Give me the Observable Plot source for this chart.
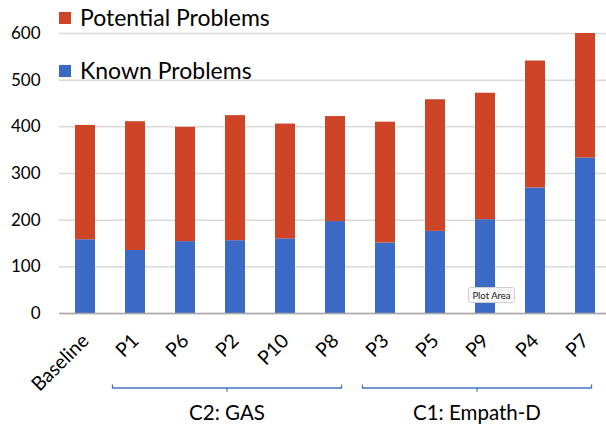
<!DOCTYPE html>
<html>
<head>
<meta charset="utf-8">
<script src="https://cdn.jsdelivr.net/npm/d3@7"></script>
<script src="https://cdn.jsdelivr.net/npm/@observablehq/plot@0.6"></script>
<style>
  html, body { margin: 0; padding: 0; background: #fff; }
  #chart svg { display: block; }
</style>
</head>
<body>
<div id="chart"></div>
<script>
const participants = ["Baseline", "P1", "P6", "P2", "P10", "P8", "P3", "P5", "P9", "P4", "P7"];
const knownProblems = [158, 135, 154, 156, 160, 197, 151, 176, 201, 269, 333];
const totalProblems = [403, 411, 399, 424, 406, 422, 410, 458, 472, 541, 600];
const potentialProblems = totalProblems.map((t, i) => t - knownProblems[i]);
const seriesNames = ["Known Problems", "Potential Problems"];
const seriesColors = ["#3A69C6", "#CD4526"];
const yTicks = [0, 100, 200, 300, 400, 500, 600];
const groups = [
  { label: "C2: GAS", first: "P1", last: "P8" },
  { label: "C1: Empath-D", first: "P3", last: "P7" }
];

const rows = [];
participants.forEach((p, i) => {
  rows.push({ participant: p, type: seriesNames[0], value: knownProblems[i] });
  rows.push({ participant: p, type: seriesNames[1], value: potentialProblems[i] });
});

const FONT = "Lato, 'Open Sans', sans-serif";
const W = 606, H = 427;

const plot = Plot.plot({
  width: W,
  height: H,
  marginTop: 33,
  marginBottom: 114,
  marginLeft: 59,
  marginRight: 0,
  style: { fontFamily: FONT, fontSize: "16px", color: "#000", background: "#fff" },
  x: { domain: participants, range: [59, 611], paddingInner: 0.6, paddingOuter: 0.3, label: null },
  y: { domain: [0, 600], label: null },
  color: { domain: seriesNames, range: seriesColors },
  marks: [
    Plot.gridY(yTicks, { stroke: "#d9d9d9", strokeOpacity: 1, strokeWidth: 1.5 }),
    Plot.barY(rows, { x: "participant", y: "value", fill: "type", order: seriesNames }),
    Plot.ruleY([0], { stroke: "#a6a6a6", strokeWidth: 1.5 }),
    Plot.axisY(yTicks, { tickSize: 0, tickPadding: 19, fontSize: 17, label: null }),
    Plot.axisX({ tickSize: 0, tickRotate: -45, tickPadding: 24, fontSize: 19.5, label: null })
  ]
});

const svg = d3.select(plot);
const xs = plot.scale("x");
const bw = xs.bandwidth;
const step = xs.step;
const cx = c => xs.apply(c) + bw / 2;

// legend (inside plot area, top-left)
const legend = svg.append("g").attr("font-family", FONT).attr("font-size", 23).attr("text-anchor", "start");
[[seriesNames[1], seriesColors[1], 12], [seriesNames[0], seriesColors[0], 65]].forEach(([name, col, y]) => {
  legend.append("rect").attr("x", 59).attr("y", y).attr("width", 12).attr("height", 12).attr("fill", col);
  legend.append("text").attr("x", 80).attr("y", y + 13.5).attr("text-anchor", "start").attr("fill", "#000").text(name);
});

// group brackets and labels
const gb = svg.append("g");
groups.forEach(g => {
  const x1 = cx(g.first) - 0.45 * step;
  const x2 = cx(g.last) + 0.13 * step;
  const mid = (x1 + x2) / 2;
  const yb = 388;
  gb.append("path")
    .attr("d", `M${x1},${yb - 3.5}V${yb}H${x2}V${yb - 3.5}M${mid},${yb}V${yb + 3.5}`)
    .attr("fill", "none").attr("stroke", "#4472C4").attr("stroke-width", 1.3);
  gb.append("text").attr("x", mid).attr("y", 420).attr("text-anchor", "middle")
    .attr("font-family", FONT).attr("font-size", 20.5).attr("fill", "#000").text(g.label);
});

// "Plot Area" hover tooltip seen in the screenshot
const tip = svg.append("g");
tip.append("rect").attr("x", 468.5).attr("y", 287.5).attr("width", 46).attr("height", 15)
  .attr("rx", 2).attr("fill", "#f7f7f7").attr("stroke", "#cfcfcf");
tip.append("text").attr("x", 491.5).attr("y", 299).attr("text-anchor", "middle")
  .attr("font-family", FONT).attr("font-size", 9.5).attr("fill", "#222").text("Plot Area");

document.getElementById("chart").appendChild(plot);
</script>
</body>
</html>
